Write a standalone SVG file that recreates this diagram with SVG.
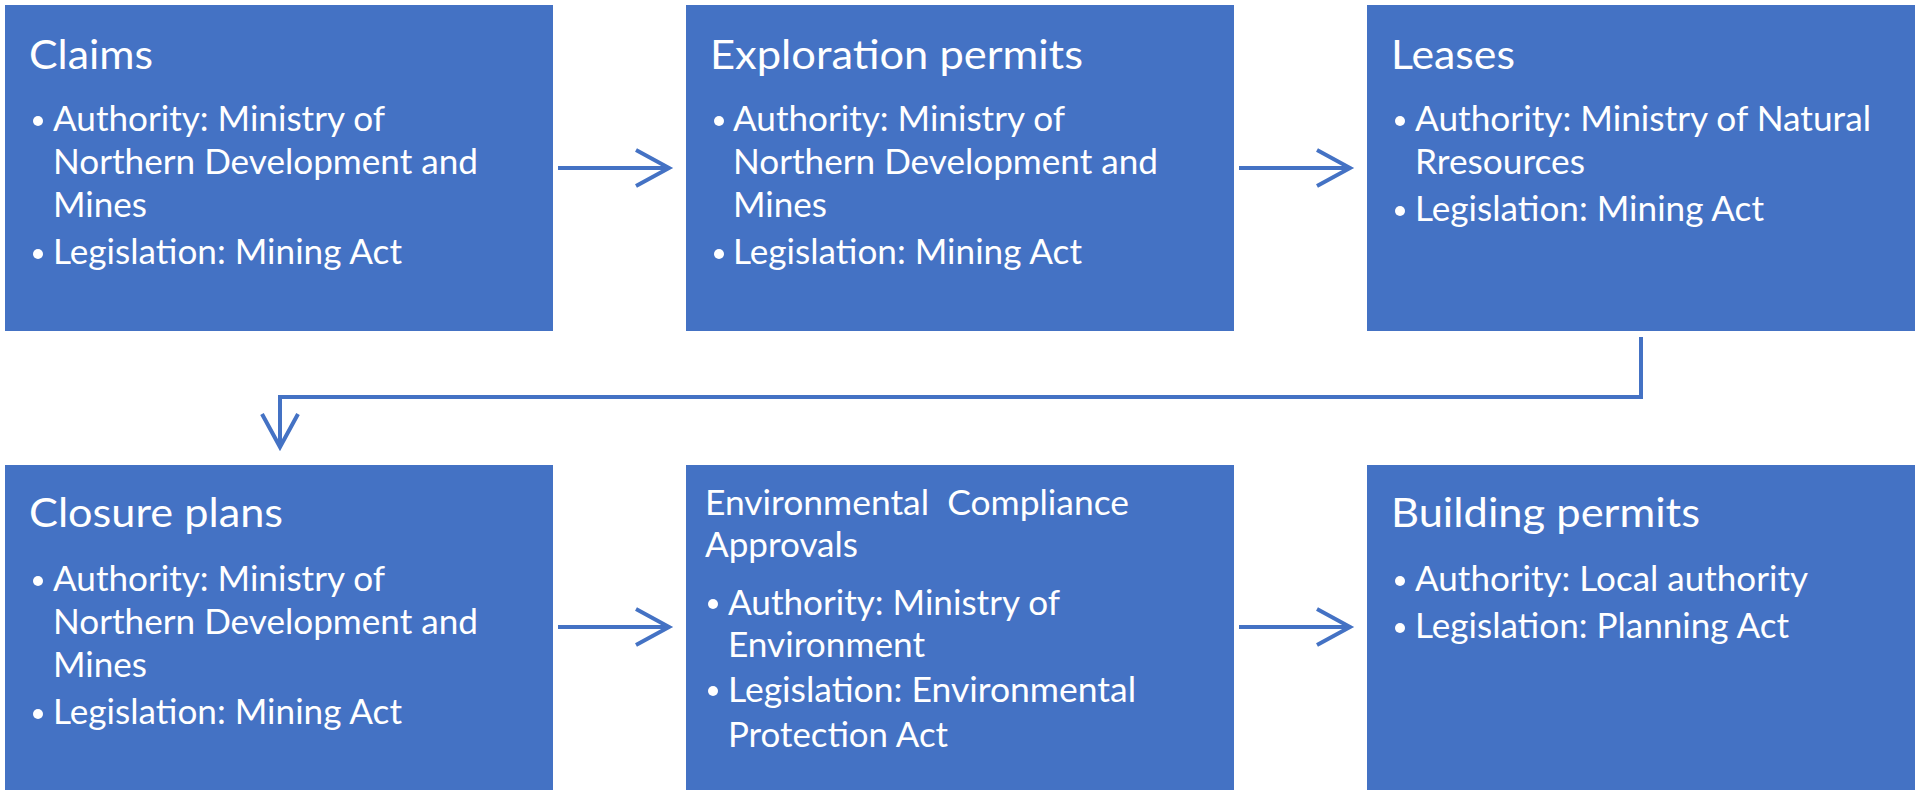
<svg xmlns="http://www.w3.org/2000/svg" width="1920" height="796" viewBox="0 0 1920 796">
<defs>
<style>
.box{fill:#4472C4;}
.t{font-family:Lato,"Liberation Sans",sans-serif;fill:#FFFFFF;}
.ttl{font-size:41.5px;}
.bl{font-size:34px;}
.dot{fill:#FFFFFF;}
.con{fill:none;stroke:#4472C4;stroke-width:4;}
</style>
<marker id="arr" markerUnits="userSpaceOnUse" markerWidth="44" markerHeight="44" viewBox="0 0 44 44" refX="38" refY="22" orient="auto">
<path d="M5,4 L38,22 L5,40" fill="none" stroke="#4472C4" stroke-width="4" stroke-linejoin="miter"/>
</marker>
</defs>
<rect width="1920" height="796" fill="#FFFFFF"/>

<g id="connectors">
<line class="con" x1="558" y1="168" x2="669" y2="168" marker-end="url(#arr)"/>
<line class="con" x1="1239" y1="168" x2="1350" y2="168" marker-end="url(#arr)"/>
<polyline class="con" points="1641,337 1641,397 280,397 280,447" marker-end="url(#arr)"/>
<line class="con" x1="558" y1="627" x2="669" y2="627" marker-end="url(#arr)"/>
<line class="con" x1="1239" y1="627" x2="1350" y2="627" marker-end="url(#arr)"/>
</g>

<g id="claims">
<rect class="box" x="5" y="5" width="548" height="326"/>
<text class="t ttl" x="29" y="69" textLength="124" lengthAdjust="spacingAndGlyphs">Claims</text>
<circle class="dot" cx="38" cy="121" r="5"/>
<text class="t bl" x="53" y="131" textLength="332" lengthAdjust="spacingAndGlyphs">Authority: Ministry of</text>
<text class="t bl" x="53" y="174" textLength="425" lengthAdjust="spacingAndGlyphs">Northern Development and</text>
<text class="t bl" x="53" y="217" textLength="94" lengthAdjust="spacingAndGlyphs">Mines</text>
<circle class="dot" cx="38" cy="254" r="5"/>
<text class="t bl" x="53" y="264" textLength="349" lengthAdjust="spacingAndGlyphs">Legislation: Mining Act</text>
</g>

<g id="exploration-permits">
<rect class="box" x="686" y="5" width="548" height="326"/>
<text class="t ttl" x="710" y="69" textLength="373" lengthAdjust="spacingAndGlyphs">Exploration permits</text>
<circle class="dot" cx="719" cy="121" r="5"/>
<text class="t bl" x="733" y="131" textLength="332" lengthAdjust="spacingAndGlyphs">Authority: Ministry of</text>
<text class="t bl" x="733" y="174" textLength="425" lengthAdjust="spacingAndGlyphs">Northern Development and</text>
<text class="t bl" x="733" y="217" textLength="94" lengthAdjust="spacingAndGlyphs">Mines</text>
<circle class="dot" cx="719" cy="254" r="5"/>
<text class="t bl" x="733" y="264" textLength="349" lengthAdjust="spacingAndGlyphs">Legislation: Mining Act</text>
</g>

<g id="leases">
<rect class="box" x="1367" y="5" width="548" height="326"/>
<text class="t ttl" x="1391" y="69" textLength="124" lengthAdjust="spacingAndGlyphs">Leases</text>
<circle class="dot" cx="1400" cy="121" r="5"/>
<text class="t bl" x="1415" y="131" textLength="456" lengthAdjust="spacingAndGlyphs">Authority: Ministry of Natural</text>
<text class="t bl" x="1415" y="174" textLength="170" lengthAdjust="spacingAndGlyphs">Rresources</text>
<circle class="dot" cx="1400" cy="211" r="5"/>
<text class="t bl" x="1415" y="221" textLength="349" lengthAdjust="spacingAndGlyphs">Legislation: Mining Act</text>
</g>

<g id="closure-plans">
<rect class="box" x="5" y="465" width="548" height="325"/>
<text class="t ttl" x="29" y="527" textLength="254" lengthAdjust="spacingAndGlyphs">Closure plans</text>
<circle class="dot" cx="38" cy="581" r="5"/>
<text class="t bl" x="53" y="591" textLength="332" lengthAdjust="spacingAndGlyphs">Authority: Ministry of</text>
<text class="t bl" x="53" y="634" textLength="425" lengthAdjust="spacingAndGlyphs">Northern Development and</text>
<text class="t bl" x="53" y="677" textLength="94" lengthAdjust="spacingAndGlyphs">Mines</text>
<circle class="dot" cx="38" cy="714" r="5"/>
<text class="t bl" x="53" y="724" textLength="349" lengthAdjust="spacingAndGlyphs">Legislation: Mining Act</text>
</g>

<g id="environmental-compliance-approvals">
<rect class="box" x="686" y="465" width="548" height="325"/>
<text class="t bl" x="705" y="515" xml:space="preserve" style="white-space:pre" textLength="424" lengthAdjust="spacingAndGlyphs">Environmental  Compliance</text>
<text class="t bl" x="705" y="557" textLength="153" lengthAdjust="spacingAndGlyphs">Approvals</text>
<circle class="dot" cx="713" cy="604" r="5"/>
<text class="t bl" x="728" y="615" textLength="332" lengthAdjust="spacingAndGlyphs">Authority: Ministry of</text>
<text class="t bl" x="728" y="657" textLength="197" lengthAdjust="spacingAndGlyphs">Environment</text>
<circle class="dot" cx="713" cy="691" r="5"/>
<text class="t bl" x="728" y="702" textLength="408" lengthAdjust="spacingAndGlyphs">Legislation: Environmental</text>
<text class="t bl" x="728" y="747" textLength="220" lengthAdjust="spacingAndGlyphs">Protection Act</text>
</g>

<g id="building-permits">
<rect class="box" x="1367" y="465" width="548" height="325"/>
<text class="t ttl" x="1391" y="527" textLength="309" lengthAdjust="spacingAndGlyphs">Building permits</text>
<circle class="dot" cx="1400" cy="581" r="5"/>
<text class="t bl" x="1415" y="591" textLength="393" lengthAdjust="spacingAndGlyphs">Authority: Local authority</text>
<circle class="dot" cx="1400" cy="628" r="5"/>
<text class="t bl" x="1415" y="638" textLength="374" lengthAdjust="spacingAndGlyphs">Legislation: Planning Act</text>
</g>
</svg>
